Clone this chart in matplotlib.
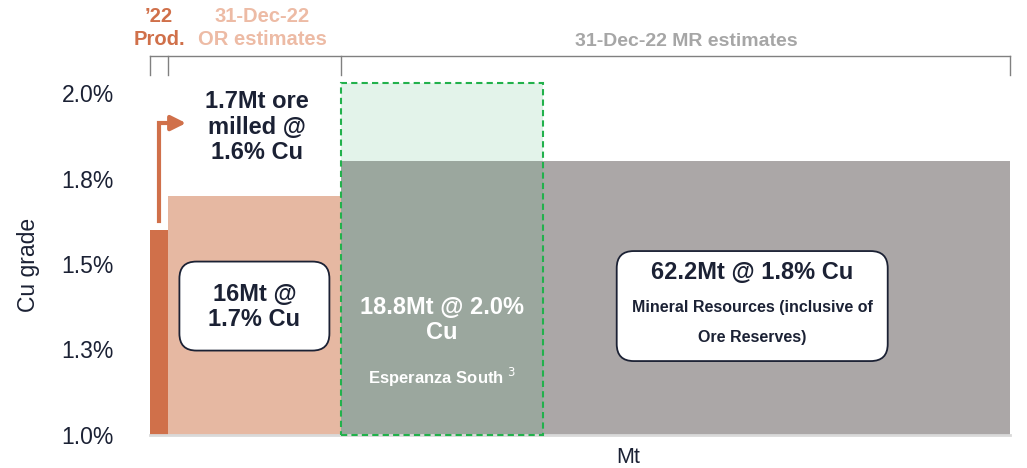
import numpy as np
import matplotlib.pyplot as plt
from matplotlib.patches import FancyBboxPatch

plt.rcParams['font.family'] = ['Liberation Sans', 'DejaVu Sans']

# tonnage (Mt) and Cu grade (%) per block: '22 production, Ore Reserves, Mineral Resources
blocks = ["Prod", "OR", "MR"]
tonnes = [1.7, 16.0, 62.2]
grades = [1.6, 1.7, 1.8]
colors = ['#D0704A', '#E6B8A2', '#ABA7A7']

# Esperanza South sits inside the MR block
esp_tonnes = 18.8
esp_grade = 2.03

y_ticks = [1.0, 1.25, 1.5, 1.75, 2.0]
y_ticklabels = ['1.0%', '1.3%', '1.5%', '1.8%', '2.0%']

navy = '#1B2134'
total = sum(tonnes)
lefts = np.concatenate([[0], np.cumsum(tonnes)[:-1]])
centers = lefts + np.array(tonnes) / 2

fig = plt.figure(figsize=(10.27, 4.68), dpi=100)
ax = fig.add_axes([150 / 1027, 1 - 435 / 468, 860 / 1027, 342 / 468])
ax.set_xlim(0, total)
ax.set_ylim(1.0, 2.0)

ax.bar(lefts, np.array(grades) - 1.0, width=tonnes, bottom=1.0, align='edge',
       color=colors, linewidth=0, zorder=1)

# Esperanza South overlay
esp_left = lefts[2]
ax.bar(esp_left, esp_grade - 1.0, width=esp_tonnes, bottom=1.0, align='edge',
       color='#3BAB6C', alpha=0.14, linewidth=0, clip_on=False, zorder=2)
ax.bar(esp_left, esp_grade - 1.0, width=esp_tonnes, bottom=1.0, align='edge',
       fill=False, edgecolor='#22B14C', linestyle=(0, (3, 2)), linewidth=1.5,
       clip_on=False, zorder=3)

# axes styling
for s in ['top', 'right', 'left']:
    ax.spines[s].set_visible(False)
ax.spines['bottom'].set_color('#D9D9D9')
ax.spines['bottom'].set_linewidth(2)
ax.set_xticks([])
ax.set_yticks(y_ticks, y_ticklabels)
ax.tick_params(axis='y', length=0, pad=26, labelsize=16.5, labelcolor=navy)
ax.set_ylabel('Cu grade', fontsize=16.5, color=navy)
ax.yaxis.set_label_coords(-0.128, 0.497)
ax.set_xlabel('Mt', fontsize=15.5, color=navy)
ax.xaxis.set_label_coords(0.556, -0.035)

# bracket over the blocks
by, bt = 2.108, 2.053
ax.plot([0, total], [by, by], color='#808080', lw=1, clip_on=False)
for xb in [0, lefts[1], lefts[2], total]:
    ax.plot([xb, xb], [bt, by], color='#808080', lw=1, clip_on=False)

ax.text(centers[0], 2.19, '\u201922\nProd.', ha='center', va='center', fontsize=14.5,
        fontweight='bold', color='#D0704A', linespacing=1.25)
ax.text(10.4, 2.19, '31-Dec-22\nOR estimates', ha='center', va='center', fontsize=14.5,
        fontweight='bold', color='#EDBBA5', linespacing=1.25)
ax.text(49.8, 2.152, '31-Dec-22 MR estimates', ha='center', va='center', fontsize=14,
        fontweight='bold', color='#A6A6A6')

# production arrow
ay = 1.912
ax.plot([centers[0], centers[0], 2.2], [grades[0] + 0.026, ay, ay], color='#D0704A',
        lw=3, solid_joinstyle='miter', clip_on=False)
ax.annotate('', xy=(3.35, ay), xytext=(1.9, ay),
            arrowprops=dict(arrowstyle='-|>', color='#D0704A', lw=3, mutation_scale=22,
                            shrinkA=0, shrinkB=0))
ax.text(9.94, 1.90, '1.7Mt ore\nmilled @\n1.6% Cu', ha='center', va='center', fontsize=17,
        fontweight='bold', color=navy, linespacing=1.15)

# rounded label boxes
px_x = total / 860
px_y = 1.0 / 342
aspect = px_y / px_x


def rbox(cx, cy, wpx, hpx):
    w, h = wpx * px_x, hpx * px_y
    p = FancyBboxPatch((cx - w / 2, cy - h / 2), w, h,
                       boxstyle='round,pad=0,rounding_size=%f' % (17 * px_x),
                       mutation_aspect=aspect, fc='white', ec=navy, lw=1.3, zorder=4)
    ax.add_patch(p)


rbox(centers[1], 1.377, 150, 89)
ax.text(centers[1], 1.374, '16Mt @\n1.7% Cu', ha='center', va='center', fontsize=17,
        fontweight='bold', color=navy, linespacing=1.1, zorder=5)

rbox(55.95, 1.377, 271, 110)
ax.text(55.95, 1.474, '62.2Mt @ 1.8% Cu', ha='center', va='center', fontsize=17,
        fontweight='bold', color=navy, zorder=5)
ax.text(55.95, 1.330, 'Mineral Resources (inclusive of\nOre Reserves)', ha='center',
        va='center', fontsize=11.5, fontweight='bold', color=navy, linespacing=2.25, zorder=5)

esp_c = esp_left + esp_tonnes / 2
ax.text(esp_c, 1.336, '18.8Mt @ 2.0%\nCu', ha='center', va='center', fontsize=17,
        fontweight='bold', color='white', linespacing=1.1, zorder=5)
ax.text(esp_c, 1.167, 'Esperanza South $^{3}$', ha='center', va='center', fontsize=12,
        fontweight='bold', color='white', zorder=5)

fig.savefig('out.png', dpi=100)
